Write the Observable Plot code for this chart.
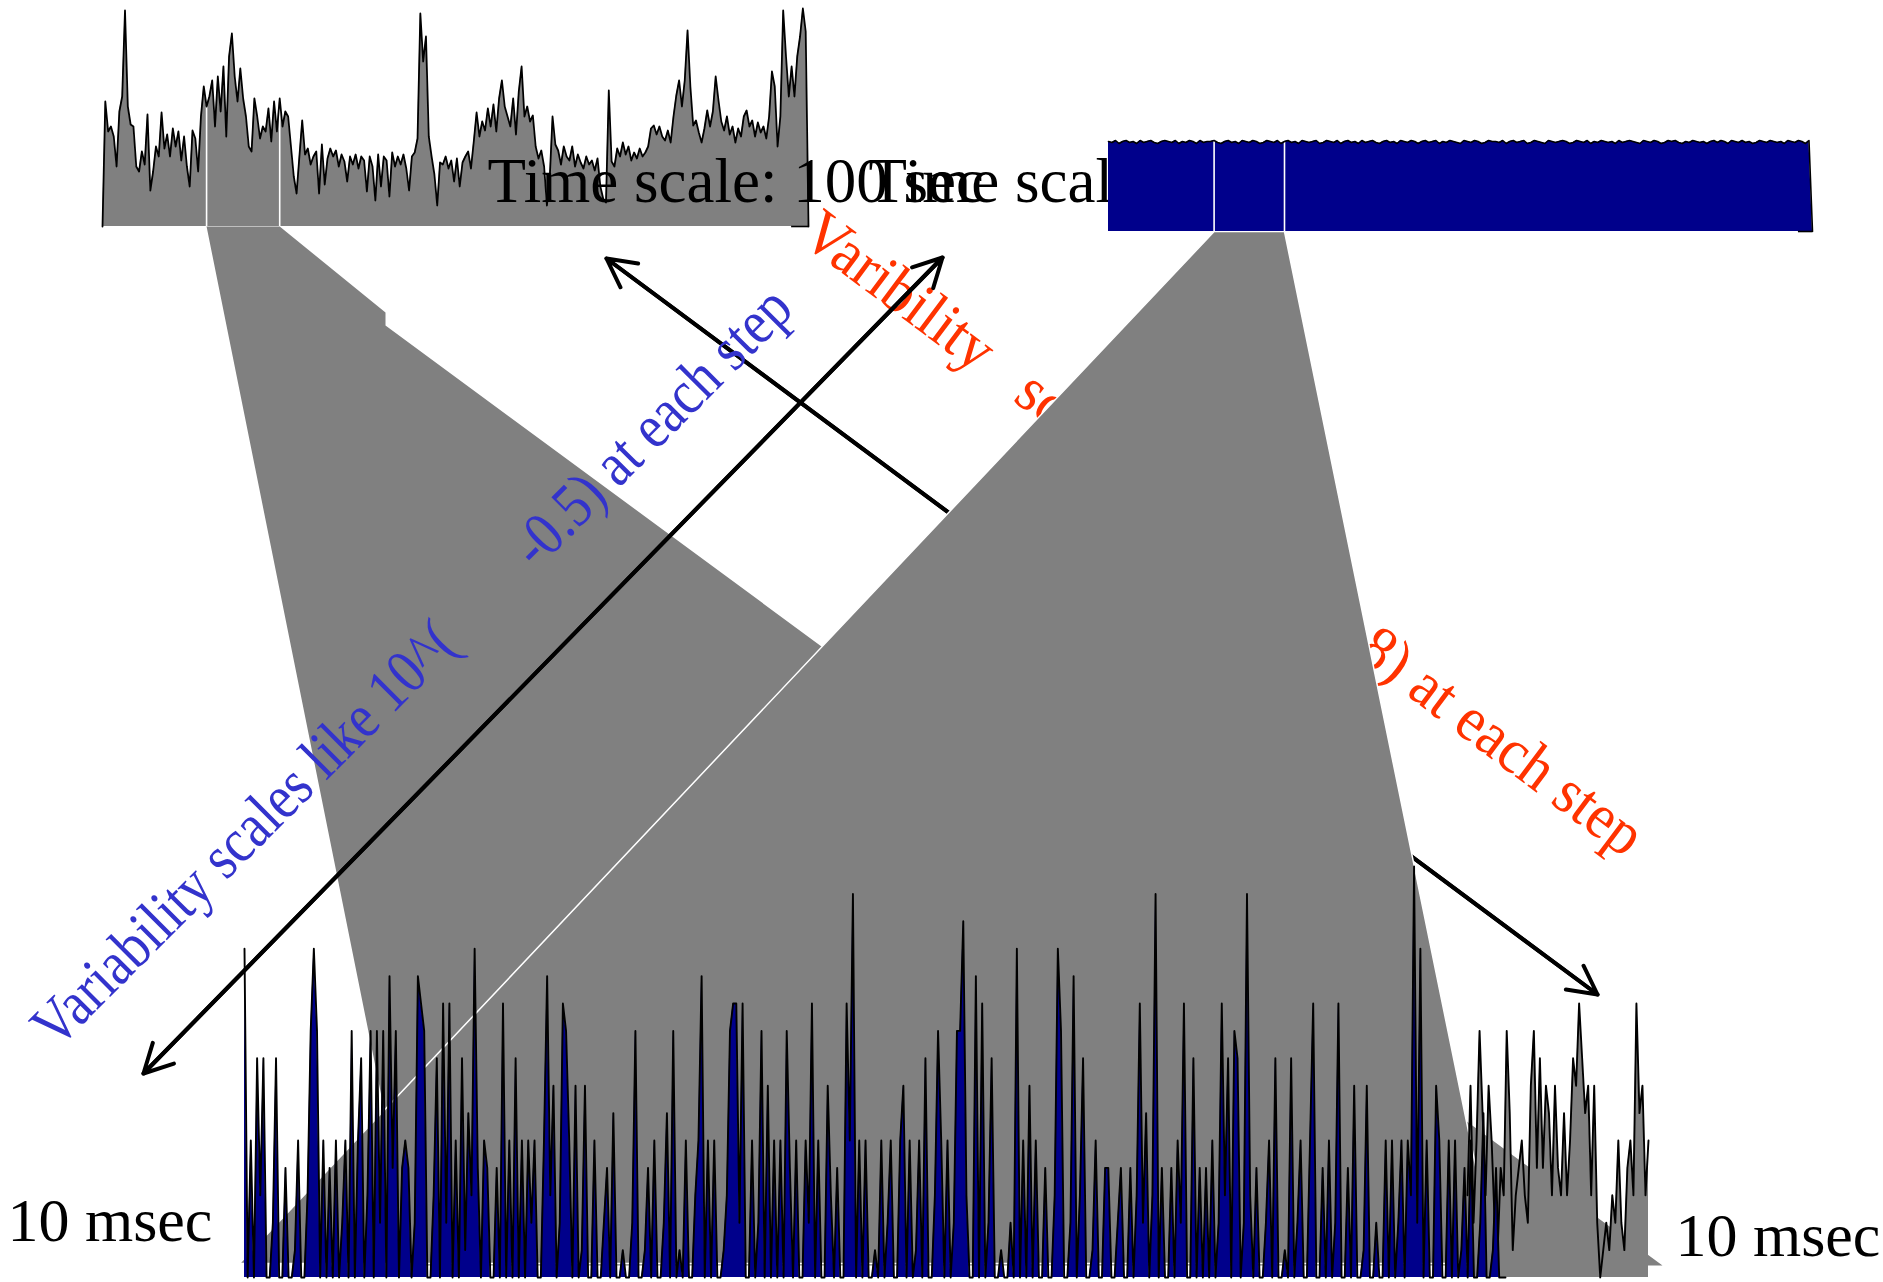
<!DOCTYPE html>
<html>
<head>
<meta charset="utf-8">
<script src="https://cdn.jsdelivr.net/npm/d3@7"></script>
<script src="https://cdn.jsdelivr.net/npm/@observablehq/plot@0.6"></script>
<style>
  html, body { margin: 0; padding: 0; background: #fff; }
  #figure { position: relative; width: 1883px; height: 1282px; overflow: hidden; background: #fff; }
  #figure svg { position: absolute; overflow: visible; background: transparent; }
</style>
</head>
<body>
<div id="figure"></div>
<script>
// ---------------------------------------------------------------------------
// Traffic counts (arbitrary packet units), one value per time bin.
// ---------------------------------------------------------------------------

// Measured traffic, 100 s time scale (grey panel, top left)
const measured100s = [
  0,125,95,100,90,60,115,130,216,120,
  102,100,60,55,75,62,112,36,55,80,
  70,114,78,92,70,98,80,95,66,90,
  60,40,96,88,55,110,140,120,130,146,
  100,150,115,160,90,170,193,150,125,158,
  128,110,80,75,128,110,88,100,95,118,
  85,125,95,128,100,115,110,80,50,33,
  70,106,72,78,62,70,75,33,82,42,
  68,78,70,76,60,72,65,45,70,62,
  72,58,70,66,35,70,60,26,72,40,
  70,66,30,74,60,70,62,72,58,36,
  70,74,88,213,165,190,90,70,52,21,
  64,62,70,58,66,45,68,40,64,70,
  75,58,85,114,90,105,96,118,100,122,
  95,128,146,120,110,100,128,92,135,160,
  110,120,105,111,80,68,76,60,21,48,
  110,82,76,62,80,70,66,80,60,72,
  64,58,70,62,66,56,68,40,28,24,
  136,65,60,78,70,84,72,80,66,74,
  68,78,70,74,80,98,101,92,100,90,
  86,96,84,110,131,146,120,146,196,140,
  101,106,94,84,98,116,100,115,150,126,
  105,96,110,92,100,84,98,90,110,116,
  100,106,90,104,94,100,88,110,155,140,
  80,110,216,170,130,160,130,170,190,218,
  195,0
];

// Poisson model traffic, 100 s time scale (navy panel, top right)
const poisson100s = [
  90,89,91,88,90,91,89,90,88,91,
  89,90,91,89,88,90,91,90,89,91,
  88,90,89,91,90,88,91,89,90,90,
  91,89,88,90,91,89,90,88,91,90,
  89,91,90,88,89,91,90,89,91,88,
  90,91,89,90,88,91,90,89,90,91,
  88,89,91,90,89,91,88,90,91,89,
  90,88,91,89,90,91,89,88,90,91,
  89,90,88,91,90,89,91,90,88,90,
  91,89,90,91,88,90,89,91,90,89,
  88,91,90,89,91,90,88,89,91,90,
  90,89,91,88,90,91,89,90,91,88,
  89,91,90,89,88,91,90,89,90,91,
  90,88,89,91,90,89,91,88,90,89,
  91,90,89,90,88,91,89,90,91,90,
  89,88,91,90,89,91,90,88,89,91,
  90,91,89,88,90,89,91,90,89,90,
  88,90,91,89,91,90,88,91,90,89,
  91,89,90,88,89,91,90,89,91,90,
  89,90,88,91,90,89,91,90,88,91,
  0
];

// Poisson model traffic, 10 ms time scale (navy panel, bottom)
const poisson10ms = [
  12,0,5,0,8,3,8,0,0,2,
  8,0,0,4,0,0,1,5,0,0,
  3,9,12,9,0,5,0,4,0,5,
  0,2,5,0,9,0,5,8,0,3,
  9,0,9,2,9,0,11,4,9,0,
  4,5,4,0,2,11,10,9,0,0,
  3,8,0,10,2,10,0,5,0,8,
  1,6,3,12,4,0,5,4,0,0,
  4,0,10,0,5,0,8,0,5,0,
  5,2,5,0,0,5,11,3,7,0,
  2,10,9,5,0,7,0,1,7,0,
  0,5,0,0,2,4,0,6,0,0,
  1,0,0,2,9,0,0,1,4,0,
  5,0,0,2,6,0,9,0,1,0,
  5,0,0,3,5,11,0,5,0,5,
  0,0,1,3,9,10,10,2,10,0,
  0,5,0,2,9,0,7,0,5,0,
  5,0,9,4,0,5,0,0,5,2,
  10,0,5,0,0,7,3,0,4,0,
  0,10,5,14,0,5,0,5,0,0,
  1,0,5,0,2,5,0,0,5,7,
  0,5,0,1,5,0,8,0,0,3,
  9,5,0,5,0,2,9,9,13,3,
  0,0,11,0,10,0,2,8,0,0,
  1,0,0,2,0,12,0,5,0,7,
  0,5,0,0,4,0,0,3,12,9,
  0,0,2,11,0,3,8,0,0,1,
  5,0,0,4,4,0,0,2,4,0,
  0,4,0,3,10,2,6,0,3,14,
  0,4,0,0,4,0,5,2,10,0,
  0,8,0,4,0,4,0,5,0,2,
  10,3,8,0,9,8,0,2,14,3,
  0,4,0,0,2,5,0,8,0,0,
  1,0,8,0,2,5,0,0,5,10,
  0,0,4,0,5,0,2,10,0,0,
  4,0,7,0,0,1,7,0,0,2,
  0,0,5,0,5,0,2,5,0,5,
  3,15,2,12,0,5,0,0,7,5,
  0,0,5,0,5,0,1,4,0,5,
  0,0,2,6,0,0,1,4,0,0,
  0
];

// Measured traffic, 10 ms time scale (grey panel, bottom right)
const measured10ms = [
  3,7,2,5,9,6,3,7,5,2,
  1,4,3,9,6,1,3,4,5,3,
  2,7,9,4,8,4,7,6,3,7,
  4,3,6,3,5,8,7,10,8,6,
  7,3,7,2,0,1,2,1,3,2,
  5,2,1,4,5,3,10,6,7,3,
  5
];

// Zoom windows (bin index ranges) marked inside the 100 s panels
const measuredWindow = [37, 63];
const poissonWindow = [30, 50];

// Text
const timeScaleLabel = "Time scale: 100 sec";
const fineScaleLabel = "10 msec";
const nbsp = n => "\u00a0".repeat(n);
const poissonNote = "Variability scales like 10^(" + nbsp(8) + "-0.5) at each step";
const measuredNote = "Varibility" + nbsp(3) + "scales like 10^(-0.8) at each step";

// ---------------------------------------------------------------------------
// Layout (pixels)
// ---------------------------------------------------------------------------
const W = 1883, H = 1282;
const serif = "'Liberation Serif', 'Times New Roman', serif";
const GREY = "#808080", NAVY = "#00008B", BLUE = "#3333CC", RED = "#FF3300";

const boxes = {
  measured100s: {left: 102, width: 706, baseline: 226, height: 220, yMax: 220, line: 1.8},
  poisson100s:  {left: 1108, width: 704, baseline: 231, height: 220, yMax: 220, line: 1.6},
  poisson10ms:  {left: 244, width: 1261, baseline: 1277, height: 411, yMax: 15, line: 1.9},
  measured10ms: {left: 1467, width: 181, baseline: 1277, height: 411, yMax: 15, line: 1.9}
};

const fig = document.getElementById("figure");

function place(svg, left, top) {
  svg.style.left = left + "px";
  svg.style.top = top + "px";
  fig.append(svg);
}

function seriesPanel(values, box, fill, windowIdx, tailBins) {
  const n = values.length;
  const marks = [Plot.areaY(values, {fill})];
  if (windowIdx) {
    marks.push(Plot.ruleX(windowIdx, {x: d => d, y1: 0, y2: d => values[d], stroke: "white", strokeWidth: 1.6}));
  }
  marks.push(Plot.lineY(values, {stroke: "black", strokeWidth: box.line}));
  if (tailBins) {
    marks.push(Plot.ruleY([0], {x1: n - 1 - tailBins, x2: n - 1, stroke: "black", strokeWidth: 1.6}));
  }
  const svg = Plot.plot({
    width: box.width,
    height: box.height,
    margin: 0,
    x: {domain: [0, n - 1], axis: null},
    y: {domain: [0, box.yMax], axis: null},
    marks
  });
  place(svg, box.left, box.baseline - box.height);
}

// pixel position of a bin inside a panel
function binX(box, n, i) { return box.left + (i / (n - 1)) * box.width; }

// ---------------------------------------------------------------------------
// Layer 1: measured traffic, 100 s
// ---------------------------------------------------------------------------
seriesPanel(measured100s, boxes.measured100s, GREY, measuredWindow, 6);

// ---------------------------------------------------------------------------
// Layer 2: zoom wedges, labels and arrows
// ---------------------------------------------------------------------------
const bM = boxes.measured100s, bP = boxes.poisson100s;
const mL = binX(bM, measured100s.length, measuredWindow[0]);
const mR = binX(bM, measured100s.length, measuredWindow[1]);
const pL = binX(bP, poisson100s.length, poissonWindow[0]);
const pR = binX(bP, poisson100s.length, poissonWindow[1]);

const measuredWedge = [
  [mL, bM.baseline], [mR, bM.baseline], [385, 312], [385, 325], [1662, 1265], [415, 1265]
];
const poissonWedge = [
  [pL, bP.baseline], [pR, bP.baseline], [1495, 1263], [239, 1263]
];

const labelPos = {
  timeScale: [{x: 487, y: 201}, {x: 868, y: 201}],
  fineLeft: {x: 7, y: 1240},
  fineRight: {x: 1675, y: 1255},
  poissonNote: {x: 56, y: 1050, rotate: -45, size: 63, length: 1045},
  measuredNote: {x: 798, y: 240, rotate: 36.8, size: 63, length: 1032}
};
const arrowA = {x1: 143, y1: 1073, x2: 942, y2: 257};
const arrowB = {x1: 606, y1: 258, x2: 1597, y2: 994};

function doubleArrow(a) {
  const opts = {stroke: "black", strokeWidth: 4, headLength: 12, headAngle: 55};
  return [
    Plot.arrow([a], {x1: "x1", y1: "y1", x2: "x2", y2: "y2", ...opts}),
    Plot.arrow([a], {x1: "x2", y1: "y2", x2: "x1", y2: "y1", ...opts})
  ];
}

const textOpts = {fontFamily: serif, textAnchor: "start", lineAnchor: "bottom"};
const note = (s, p, color) => Plot.text([s], {
  x: p.x, y: p.y, text: d => d, rotate: p.rotate, fill: color, fontSize: p.size, ...textOpts
});

const annotation = Plot.plot({
  width: W,
  height: H,
  margin: 0,
  x: {domain: [0, W], range: [0, W], axis: null},
  y: {domain: [0, H], range: [0, H], axis: null},
  marks: [
    note(measuredNote, labelPos.measuredNote, RED),
    ...doubleArrow(arrowB),
    Plot.text(labelPos.timeScale, {x: "x", y: "y", text: () => timeScaleLabel, fill: "black", fontSize: 63, ...textOpts}),
    Plot.line(measuredWedge, {x: d => d[0], y: d => d[1], curve: "linear-closed", fill: GREY, stroke: "none"}),
    Plot.line(poissonWedge, {x: d => d[0], y: d => d[1], curve: "linear-closed", fill: GREY, stroke: "white", strokeWidth: 1.5}),
    note(poissonNote, labelPos.poissonNote, BLUE),
    ...doubleArrow(arrowA),
    Plot.text([labelPos.fineLeft, labelPos.fineRight], {x: "x", y: "y", text: () => fineScaleLabel, fill: "black", fontSize: 62, ...textOpts})
  ]
});

// the slanted notes are set in a tall face squeezed to a fixed run length
for (const t of annotation.querySelectorAll("text")) {
  const s = t.textContent;
  const p = s === poissonNote ? labelPos.poissonNote : s === measuredNote ? labelPos.measuredNote : null;
  if (p) {
    t.setAttribute("textLength", p.length);
    t.setAttribute("lengthAdjust", "spacingAndGlyphs");
  }
}
place(annotation, 0, 0);

// ---------------------------------------------------------------------------
// Layers 3-5: Poisson 100 s, measured 10 ms, Poisson 10 ms
// ---------------------------------------------------------------------------
seriesPanel(poisson100s, boxes.poisson100s, NAVY, poissonWindow, 4);
seriesPanel(measured10ms, boxes.measured10ms, GREY, null, 0);
seriesPanel(poisson10ms, boxes.poisson10ms, NAVY, null, 0);
</script>
</body>
</html>
